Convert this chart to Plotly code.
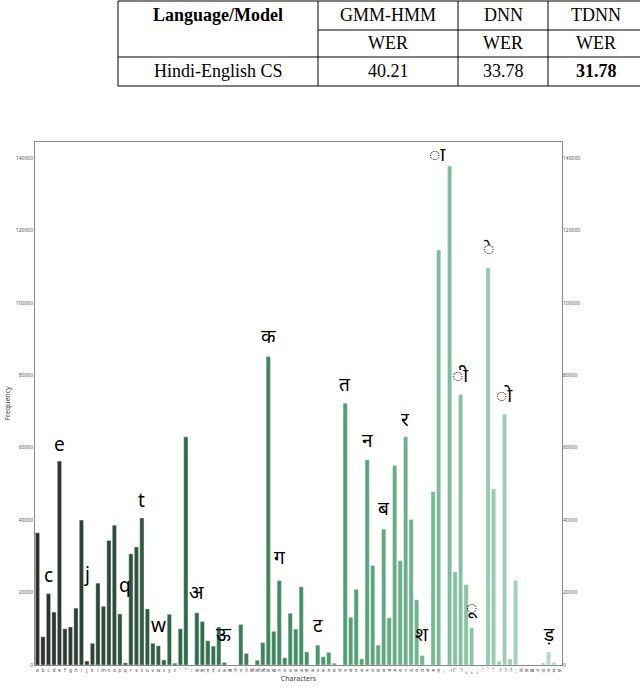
import plotly.graph_objects as go

W, H = 640, 687
def px(x): return x / W
def py(y): return 1 - y / H

chars = list("abcdefghijklmnopqrstuvwxyz") + ["'", "\"", ":"] + \
    ["अ","आ","इ","ई","उ","ऊ","ऋ","ऍ","ए","ऐ","ऑ","ओ","औ",
     "क","ख","ग","घ","च","छ","ज","झ","ञ","ट","ठ","ड","ढ","ण",
     "त","थ","द","ध","न","प","फ","ब","भ","म","य","र","ल","व","श","ष","स","ह","़",
     "ा","ि","ी","ु","ू","ृ","ॅ","े","ै","ॉ","ो","ौ","्",
     "ॐ","क़","ख़","ग़","ज़","ड़","ढ़","फ़"]
freq = [36500,7800,19700,14600,56300,10000,10500,15700,40000,1100,6000,22600,16200,34400,38600,14100,600,30700,32600,40600,15500,6000,5300,1400,14000,500,
        10000,63000,0,
        14400,12000,6700,5200,10500,700,0,0,11200,3200,0,1300,6200,
        85200,9300,23300,2000,14300,9900,21600,3600,0,5500,2300,3500,500,0,
        72300,13200,20900,1700,56700,27500,5500,37500,13000,55100,28800,63000,40200,18000,2600,0,47900,114600,0,
        137800,25700,74700,22200,10300,0,0,109700,48600,1000,69300,1700,23400,
        0,0,0,0,600,3600,800,0]
ann_text = ["c","e","j","q","t","w","अ","ऊ","क","ग","ट","त","न","ब","र","श","◌ा","◌ी","◌ू","◌े","◌ो","ड़"]
ann_char = ["c","e","j","q","t","w","अ","ऊ","क","ग","ट","त","न","ब","र","श","ा","ी","ू","े","ो","ड़"]
ann_y = [20800,57000,21000,18000,41500,7000,16000,4500,86800,25700,7000,73400,58000,39200,63800,4500,137000,76000,12000,111000,70500,4500]

n = len(chars)
idx = list(range(n))
stops = [(0, (45,48,46)), (0.3, (48,110,75)), (0.6, (80,160,115)), (1.0, (185,222,205))]
def col(t):
    for (t0,c0),(t1,c1) in zip(stops, stops[1:]):
        if t <= t1:
            f = (t-t0)/(t1-t0)
            return "rgb(%d,%d,%d)" % tuple(int(a+(b-a)*f) for a,b in zip(c0,c1))
colors = [col(i/(n-1)) for i in idx]

fig = go.Figure()
fig.add_bar(x=idx, y=freq, marker=dict(color=colors, line=dict(color="white", width=0.4)), width=0.78)
fig.add_scatter(x=[0], y=[0], yaxis="y2", mode="markers", marker=dict(opacity=0), hoverinfo="skip")

x0, x1, yt, yb = 35, 562, 142, 665
tv = list(range(0,140001,20000))
fig.update_layout(
    width=W, height=H, margin=dict(l=0, r=0, t=0, b=0, autoexpand=False), showlegend=False,
    plot_bgcolor="white", paper_bgcolor="white",
    xaxis=dict(domain=[px(x0), px(x1)], range=[-0.45, n-0.55], tickmode="array", tickvals=idx, ticktext=chars,
               tickangle=0, tickfont=dict(size=5, color="#555"), showline=True, linecolor="#888", mirror=True,
               showgrid=False, ticks="", automargin=False,
               title=dict(text="Characters", font=dict(size=7, color="#444"), standoff=2)),
    yaxis=dict(domain=[py(yb), py(yt)], range=[0, 144400], tickvals=tv, tickformat="d",
               tickfont=dict(size=5, color="#555"), showline=True, linecolor="#888", mirror=True, showgrid=False,
               ticks="", zeroline=False, automargin=False,
               title=dict(text="Frequency", font=dict(size=7, color="#444"), standoff=4)),
    yaxis2=dict(overlaying="y", side="right", range=[0, 144400], tickvals=tv, tickformat="d", automargin=False,
                tickfont=dict(size=5, color="#555"), showgrid=False, zeroline=False, showline=False),
    font=dict(family="Noto Sans"),
)
for t, c, y in zip(ann_text, ann_char, ann_y):
    xs = -12 if c == "ा" else 0
    fig.add_annotation(x=chars.index(c), y=y, text=t, showarrow=False, yanchor="bottom", xshift=xs,
                       font=dict(size=19, color="black", family="Noto Sans, DejaVu Sans"))

serif = "Liberation Serif"
L = dict(color="black", width=1)
for (a, b, c, d) in [(118,1,640,1),(318,30,640,30),(118,57,640,57),(118,86,640,86),
                     (118,1,118,86),(318,1,318,86),(458,1,458,86),(548,1,548,86)]:
    fig.add_shape(type="line", xref="paper", yref="paper", x0=px(a), y0=py(b), x1=px(c), y1=py(d), line=L)
cells = [("<b>Language/Model</b>",218,15),("GMM-HMM",388,15),("DNN",503,15),("TDNN",596,15),
         ("WER",388,43),("WER",503,43),("WER",596,43),
         ("Hindi-English CS",218,71),("40.21",388,71),("33.78",503,71),("<b>31.78</b>",596,71)]
for t, x, y in cells:
    fig.add_annotation(xref="paper", yref="paper", x=px(x), y=py(y), text=t, showarrow=False,
                       xanchor="center", yanchor="middle",
                       font=dict(family=serif, size=18, color="black"))
fig.write_html("out.html", config={"displayModeBar": False},
               post_script="document.body.style.margin='0';document.body.style.overflow='hidden';")
